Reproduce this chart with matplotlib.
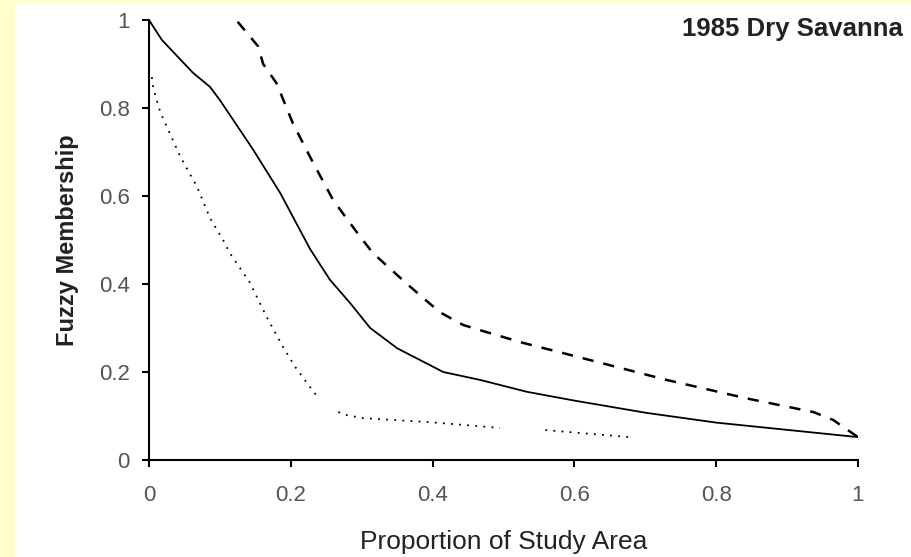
import matplotlib
matplotlib.use("Agg")
import matplotlib.pyplot as plt
from matplotlib.patches import Rectangle
import numpy as np

# ====== data ======
solid_x = [0.0, 0.018, 0.062, 0.086, 0.10, 0.147, 0.185, 0.227, 0.255, 0.284,
           0.312, 0.35, 0.415, 0.467, 0.533, 0.60, 0.702, 0.80, 1.0]
solid_y = [1.0, 0.955, 0.88, 0.848, 0.818, 0.705, 0.607, 0.48, 0.41, 0.356,
           0.30, 0.254, 0.20, 0.182, 0.155, 0.135, 0.107, 0.085, 0.052]

dash_x = [0.125, 0.154, 0.161, 0.18, 0.203, 0.23, 0.26, 0.298, 0.316, 0.364,
          0.41, 0.443, 0.467, 0.528, 0.584, 0.73, 0.843, 0.937, 0.965, 1.0]
dash_y = [0.996, 0.94, 0.90, 0.856, 0.765, 0.68, 0.59, 0.507, 0.47, 0.40,
          0.336, 0.307, 0.295, 0.266, 0.243, 0.182, 0.14, 0.109, 0.091, 0.052]

# None = gap in the dotted series
dot_x = [0.004, 0.006, 0.016, 0.044, 0.068, 0.086, 0.107, 0.114, 0.142, 0.166,
         0.189, 0.206, 0.227, 0.238, None, 0.267, 0.279, 0.302, 0.396, 0.495,
         None, 0.559, 0.678]
dot_y = [0.87, 0.845, 0.79, 0.69, 0.62, 0.55, 0.493, 0.47, 0.404, 0.325,
         0.257, 0.212, 0.166, 0.143, None, 0.109, 0.102, 0.095, 0.086, 0.073,
         None, 0.068, 0.052]

ticks = [0, 0.2, 0.4, 0.6, 0.8, 1]
tick_labels = ["0", "0.2", "0.4", "0.6", "0.8", "1"]

fam = ["Liberation Sans", "DejaVu Sans"]


def to_arr(v):
    return np.array([np.nan if a is None else a for a in v], dtype=float)


fig = plt.figure(figsize=(9.12, 5.57), dpi=100, facecolor="white")
# yellow frame strips (left and top)
fig.patches.append(Rectangle((0, 0), 15 / 912, 1, transform=fig.transFigure,
                             facecolor="#FFFFCC", edgecolor="none", zorder=0))
fig.patches.append(Rectangle((0, 1 - 3 / 557), 1, 3 / 557, transform=fig.transFigure,
                             facecolor="#FFFFCC", edgecolor="none", zorder=0))

ax = fig.add_axes([149 / 912, 1 - 460 / 557, 709 / 912, 440 / 557])
ax.set_facecolor("white")

ax.plot(solid_x, solid_y, color="black", linewidth=1.3, linestyle="-")
ax.plot(dash_x, dash_y, color="black", linewidth=1.8, dashes=(4.5, 4))
ax.plot(to_arr(dot_x), to_arr(dot_y), color="black", linewidth=1.3, dashes=(1, 3.5))

ax.set_xlim(0, 1)
ax.set_ylim(0, 1)
for s in ["top", "right"]:
    ax.spines[s].set_visible(False)
for s in ["left", "bottom"]:
    ax.spines[s].set_linewidth(1.5)
    ax.spines[s].set_color("black")

ax.set_xticks(ticks)
ax.set_xticklabels(tick_labels)
ax.set_yticks(ticks)
ax.set_yticklabels(tick_labels)
ax.tick_params(direction="out", length=5, width=1.5, colors="black",
               labelcolor="#555555", labelsize=16)
ax.tick_params(axis="x", pad=13)
ax.tick_params(axis="y", pad=9)
for lab in ax.get_xticklabels() + ax.get_yticklabels():
    lab.set_family(fam)

ax.set_xlabel("Proportion of Study Area", fontsize=19, family=fam,
              color="#222222", labelpad=17)
ax.set_ylabel("Fuzzy Membership", fontsize=17, family=fam, fontweight="bold",
              color="#222222", labelpad=14)

fig.text(0.99, 0.948, "1985 Dry Savanna", ha="right", va="center",
         fontsize=18.5, fontweight="bold", family=fam, color="#222222")

fig.savefig("out.png", dpi=100, facecolor=fig.get_facecolor())
